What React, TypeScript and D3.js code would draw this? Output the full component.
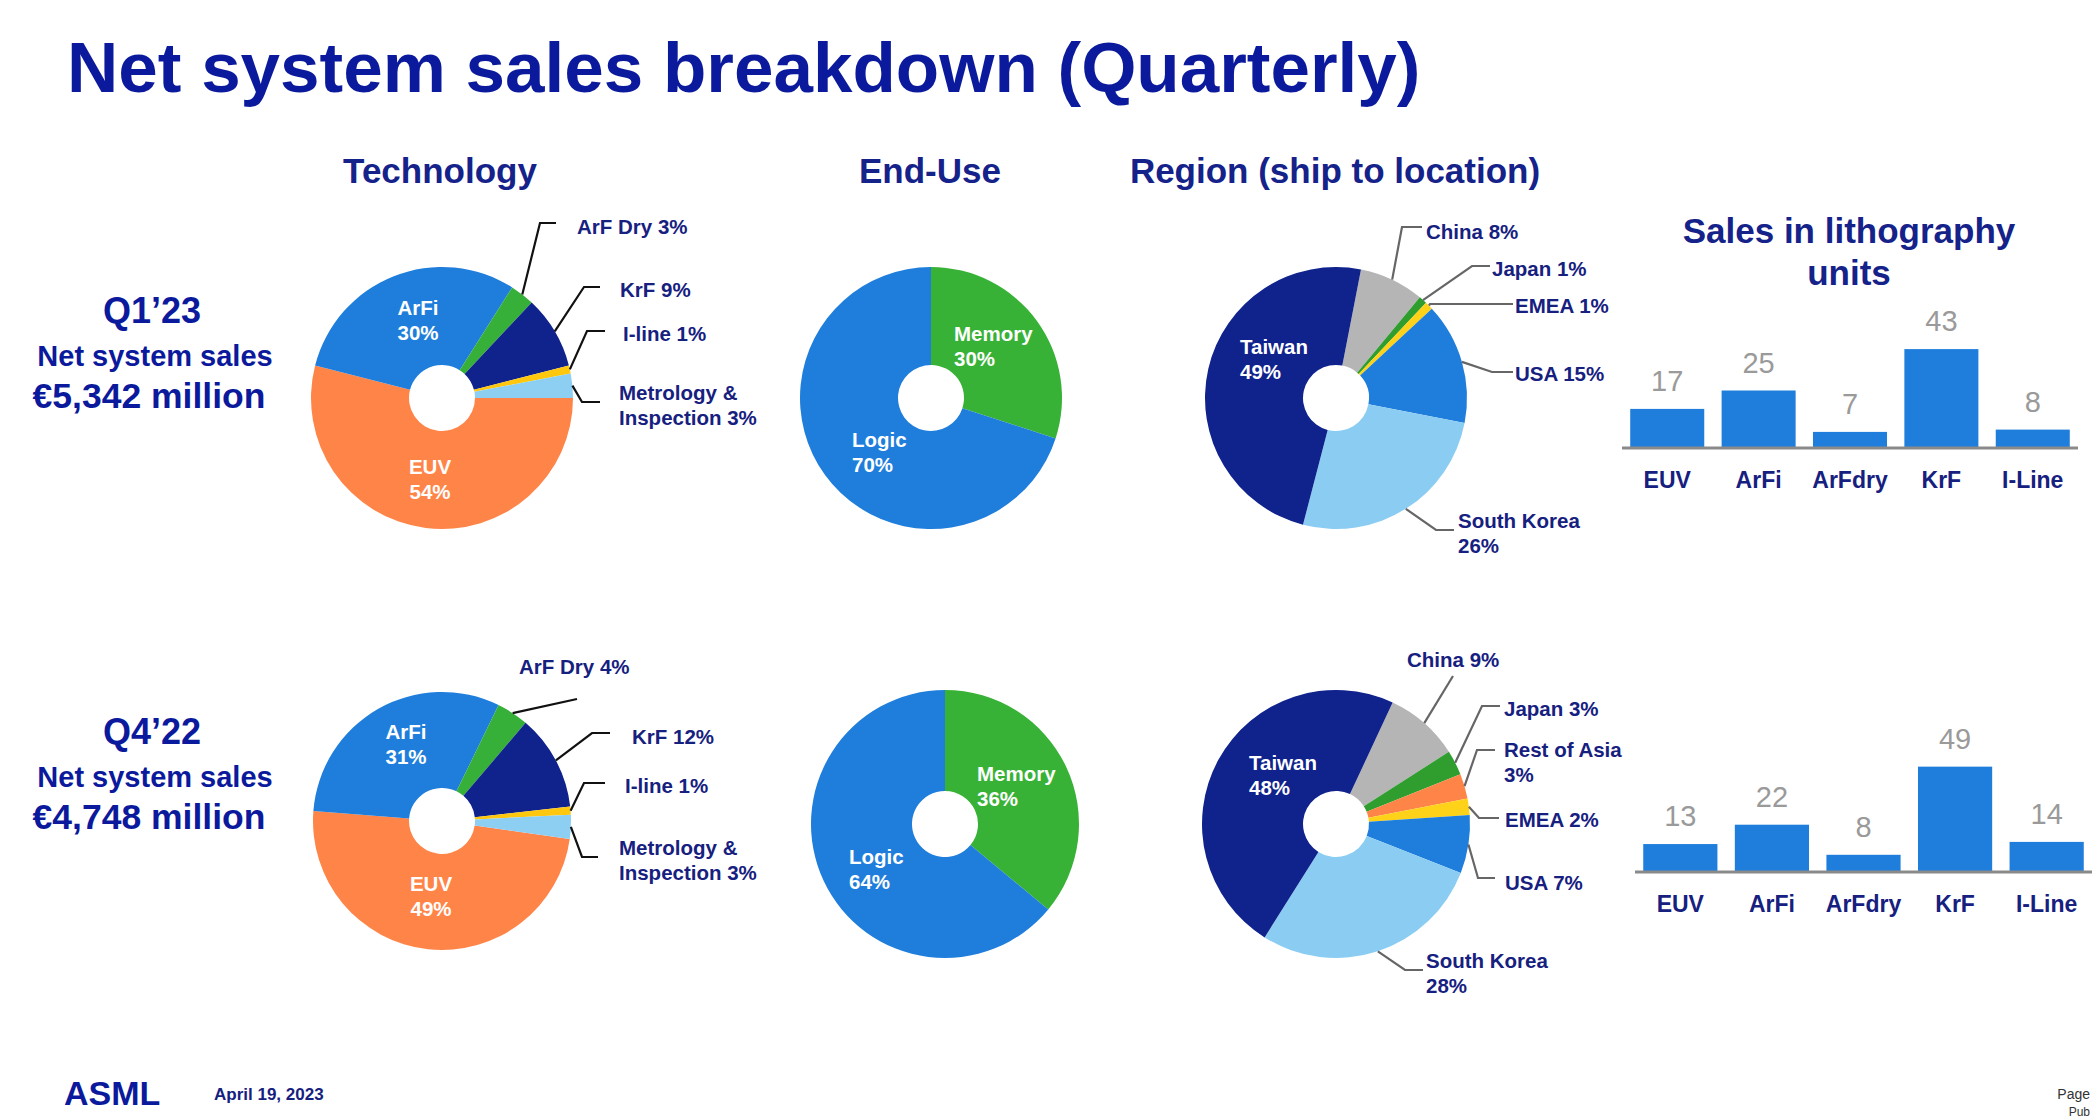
import React from "react";
import * as d3 from "d3";

const width = 2096;
const height = 1120;
const font = "'Liberation Sans', Arial, sans-serif";
const navy = "#16207f";
const titleBlue = "#0b1a9c";

// ---- data ----
const techKeys = ["EUV", "ArFi", "ArF Dry", "KrF", "I-line", "Metrology & Inspection"];
const techQ1 = [54, 30, 3, 9, 1, 3];
const techQ4 = [49, 31, 4, 12, 1, 3];

const endUseKeys = ["Memory", "Logic"];
const endUseQ1 = [30, 70];
const endUseQ4 = [36, 64];

const regionKeysQ1 = ["China", "Japan", "EMEA", "USA", "South Korea", "Taiwan"];
const regionQ1 = [8, 1, 1, 15, 26, 49];
const regionKeysQ4 = ["China", "Japan", "Rest of Asia", "EMEA", "USA", "South Korea", "Taiwan"];
const regionQ4 = [9, 3, 3, 2, 7, 28, 48];

const unitKeys = ["EUV", "ArFi", "ArFdry", "KrF", "I-Line"];
const unitsQ1 = [17, 25, 7, 43, 8];
const unitsQ4 = [13, 22, 8, 49, 14];

const quarters = ["Q1\u201923", "Q4\u201922"];
const salesMillion = ["\u20ac5,342 million", "\u20ac4,748 million"];

const colors: Record<string, string> = {
  EUV: "#ff8448",
  ArFi: "#1f7edb",
  "ArF Dry": "#37b03a",
  KrF: "#10228c",
  "I-line": "#ffc80f",
  "Metrology & Inspection": "#8ccff3",
  Memory: "#37b236",
  Logic: "#1f7edb",
  China: "#b5b5b5",
  Japan: "#2f9e2f",
  "Rest of Asia": "#ff8448",
  EMEA: "#ffd21a",
  USA: "#1f7edb",
  "South Korea": "#8bcdf2",
  Taiwan: "#10228c",
};

// ---- layout (label placement) ----
type Outer = { key: string; elbow: [number, number]; endX: number; tx: number; ty: number; wrap?: number; noFlat?: boolean };
type Inner = { key: string; x: number; y: number; anchor: string };

const techQ1Outer: Outer[] = [
  { key: "ArF Dry", elbow: [540, 223], endX: 556, tx: 577, ty: 234 },
  { key: "KrF", elbow: [584, 287], endX: 600, tx: 620, ty: 297 },
  { key: "I-line", elbow: [587, 331], endX: 605, tx: 623, ty: 341 },
  { key: "Metrology & Inspection", elbow: [582, 402], endX: 600, tx: 619, ty: 400, wrap: 2 },
];
const techQ4Outer: Outer[] = [
  { key: "ArF Dry", elbow: [577, 699], endX: 577, tx: 519, ty: 674, noFlat: true },
  { key: "KrF", elbow: [592, 733], endX: 610, tx: 632, ty: 744 },
  { key: "I-line", elbow: [584, 783], endX: 605, tx: 625, ty: 793 },
  { key: "Metrology & Inspection", elbow: [582, 857], endX: 598, tx: 619, ty: 855, wrap: 2 },
];
const regionQ1Outer: Outer[] = [
  { key: "China", elbow: [1402, 227], endX: 1422, tx: 1426, ty: 239 },
  { key: "Japan", elbow: [1472, 266], endX: 1490, tx: 1492, ty: 276 },
  { key: "EMEA", elbow: [1430, 304], endX: 1513, tx: 1515, ty: 313 },
  { key: "USA", elbow: [1492, 372], endX: 1513, tx: 1515, ty: 381 },
  { key: "South Korea", elbow: [1436, 530], endX: 1454, tx: 1458, ty: 528, wrap: 2 },
];
const regionQ4Outer: Outer[] = [
  { key: "China", elbow: [1453, 676], endX: 1453, tx: 1407, ty: 667, noFlat: true },
  { key: "Japan", elbow: [1482, 706], endX: 1500, tx: 1504, ty: 716 },
  { key: "Rest of Asia", elbow: [1477, 750], endX: 1495, tx: 1504, ty: 757, wrap: 3 },
  { key: "EMEA", elbow: [1479, 818], endX: 1499, tx: 1505, ty: 827 },
  { key: "USA", elbow: [1478, 878], endX: 1495, tx: 1505, ty: 890 },
  { key: "South Korea", elbow: [1405, 970], endX: 1423, tx: 1426, ty: 968, wrap: 2 },
];

const Txt = ({ x, y, size, children, anchor = "start", fill = navy, weight = "bold" }: any) => (
  <text x={x} y={y} fontSize={size} textAnchor={anchor} fill={fill} fontWeight={weight} fontFamily={font}>
    {children}
  </text>
);

const Pie = ({ keys, values, cx, cy, r, startDeg, outer = [], inner = [], lineColor = "#111" }: any) => {
  const start = (startDeg * Math.PI) / 180;
  const arcs = d3
    .pie<number>()
    .sort(null)
    .value((d) => d)
    .startAngle(start)
    .endAngle(start + 2 * Math.PI)(values);
  const arc = d3.arc<any>().innerRadius(33).outerRadius(r);
  const byKey = (k: string) => {
    const i = keys.indexOf(k);
    return { a: arcs[i], v: values[i] };
  };
  return (
    <g>
      <g transform={`translate(${cx},${cy})`}>
        {arcs.map((a, i) => (
          <path key={keys[i]} d={arc(a) as string} fill={colors[keys[i]]} />
        ))}
      </g>
      {outer.map((o: Outer) => {
        const { a, v } = byKey(o.key);
        const mid = (a.startAngle + a.endAngle) / 2;
        const sx = cx + r * Math.sin(mid);
        const sy = cy - r * Math.cos(mid);
        const pts = o.noFlat
          ? [[sx, sy], o.elbow]
          : [[sx, sy], o.elbow, [o.endX, o.elbow[1]]];
        const words = `${o.key} ${v}%`.split(" ");
        const lines = o.wrap
          ? [words.slice(0, o.wrap).join(" "), words.slice(o.wrap).join(" ")]
          : [words.join(" ")];
        return (
          <g key={o.key}>
            <path d={d3.line()(pts as [number, number][]) as string} fill="none" stroke={lineColor} strokeWidth={2.2} />
            {lines.map((l, j) => (
              <Txt key={j} x={o.tx} y={o.ty + j * 25} size={20.5}>{l}</Txt>
            ))}
          </g>
        );
      })}
      {inner.map((t: Inner) => {
        const { v } = byKey(t.key);
        return (
          <g key={t.key}>
            <Txt x={t.x} y={t.y} size={20.5} anchor={t.anchor} fill="#fff">{t.key}</Txt>
            <Txt x={t.x} y={t.y + 25} size={20.5} anchor={t.anchor} fill="#fff">{`${v}%`}</Txt>
          </g>
        );
      })}
    </g>
  );
};

const Bars = ({ values, x0, x1, axisY, unit, labelY }: any) => {
  const x = d3.scaleBand<string>().domain(unitKeys).range([x0, x1]).paddingInner(0.19).paddingOuter(0.09);
  const y = d3.scaleLinear().domain([0, 60]).range([axisY, axisY - 60 * unit]);
  return (
    <g>
      {values.map((v: number, i: number) => {
        const k = unitKeys[i];
        const bx = x(k) as number;
        return (
          <g key={k}>
            <rect x={bx} y={y(v)} width={x.bandwidth()} height={axisY - y(v)} fill="#1f7edb" />
            <Txt x={bx + x.bandwidth() / 2} y={y(v) - 18} size={29} anchor="middle" fill="#9a9a9a" weight="normal">
              {v}
            </Txt>
            <Txt x={bx + x.bandwidth() / 2} y={labelY} size={23} anchor="middle">{k}</Txt>
          </g>
        );
      })}
      <line x1={x0} x2={x1} y1={axisY} y2={axisY} stroke="#8a8a8a" strokeWidth={3} />
    </g>
  );
};

export default function App() {
  return (
    <svg width={width} height={height} style={{ position: "absolute", left: 0, top: 0, background: "#fff" }}>
      <rect width={width} height={height} fill="#fff" />
      <Txt x={67} y={92} size={71} fill={titleBlue}>Net system sales breakdown (Quarterly)</Txt>

      <Txt x={440} y={183} size={35} anchor="middle" fill="#15228a">Technology</Txt>
      <Txt x={930} y={183} size={35} anchor="middle" fill="#15228a">End-Use</Txt>
      <Txt x={1335} y={183} size={35} anchor="middle" fill="#15228a">Region (ship to location)</Txt>
      <Txt x={1849} y={243} size={35} anchor="middle" fill="#15228a">Sales in lithography</Txt>
      <Txt x={1849} y={285} size={35} anchor="middle" fill="#15228a">units</Txt>

      {[0, 1].map((i) => {
        const dy = i === 0 ? 0 : 421;
        return (
          <g key={i}>
            <Txt x={152} y={323 + dy} size={36} anchor="middle" fill={titleBlue}>{quarters[i]}</Txt>
            <Txt x={155} y={366 + dy} size={29} anchor="middle" fill={titleBlue}>Net system sales</Txt>
            <Txt x={149} y={408 + dy} size={35.5} anchor="middle" fill={titleBlue}>{salesMillion[i]}</Txt>
          </g>
        );
      })}

      <Pie keys={techKeys} values={techQ1} cx={442} cy={398} r={131} startDeg={90} outer={techQ1Outer}
        inner={[{ key: "ArFi", x: 418, y: 315, anchor: "middle" }, { key: "EUV", x: 430, y: 474, anchor: "middle" }]} />
      <Pie keys={techKeys} values={techQ4} cx={442} cy={821} r={129} startDeg={98} outer={techQ4Outer}
        inner={[{ key: "ArFi", x: 406, y: 739, anchor: "middle" }, { key: "EUV", x: 431, y: 891, anchor: "middle" }]} />

      <Pie keys={endUseKeys} values={endUseQ1} cx={931} cy={398} r={131} startDeg={0}
        inner={[{ key: "Memory", x: 954, y: 341, anchor: "start" }, { key: "Logic", x: 852, y: 447, anchor: "start" }]} />
      <Pie keys={endUseKeys} values={endUseQ4} cx={945} cy={824} r={134} startDeg={0}
        inner={[{ key: "Memory", x: 977, y: 781, anchor: "start" }, { key: "Logic", x: 849, y: 864, anchor: "start" }]} />

      <Pie keys={regionKeysQ1} values={regionQ1} cx={1336} cy={398} r={131} startDeg={11} outer={regionQ1Outer} lineColor="#666"
        inner={[{ key: "Taiwan", x: 1240, y: 354, anchor: "start" }]} />
      <Pie keys={regionKeysQ4} values={regionQ4} cx={1336} cy={824} r={134} startDeg={25} outer={regionQ4Outer} lineColor="#666"
        inner={[{ key: "Taiwan", x: 1249, y: 770, anchor: "start" }]} />

      <Bars values={unitsQ1} x0={1622} x1={2078} axisY={448} unit={2.3} labelY={488} />
      <Bars values={unitsQ4} x0={1635} x1={2092} axisY={872} unit={2.15} labelY={912} />

      <Txt x={64} y={1105} size={34} fill={titleBlue}>ASML</Txt>
      <Txt x={214} y={1100} size={17}>April 19, 2023</Txt>
      <Txt x={2090} y={1099} size={14} anchor="end" fill="#333" weight="normal">Page</Txt>
      <Txt x={2090} y={1116} size={12} anchor="end" fill="#333" weight="normal">Pub</Txt>
    </svg>
  );
}
